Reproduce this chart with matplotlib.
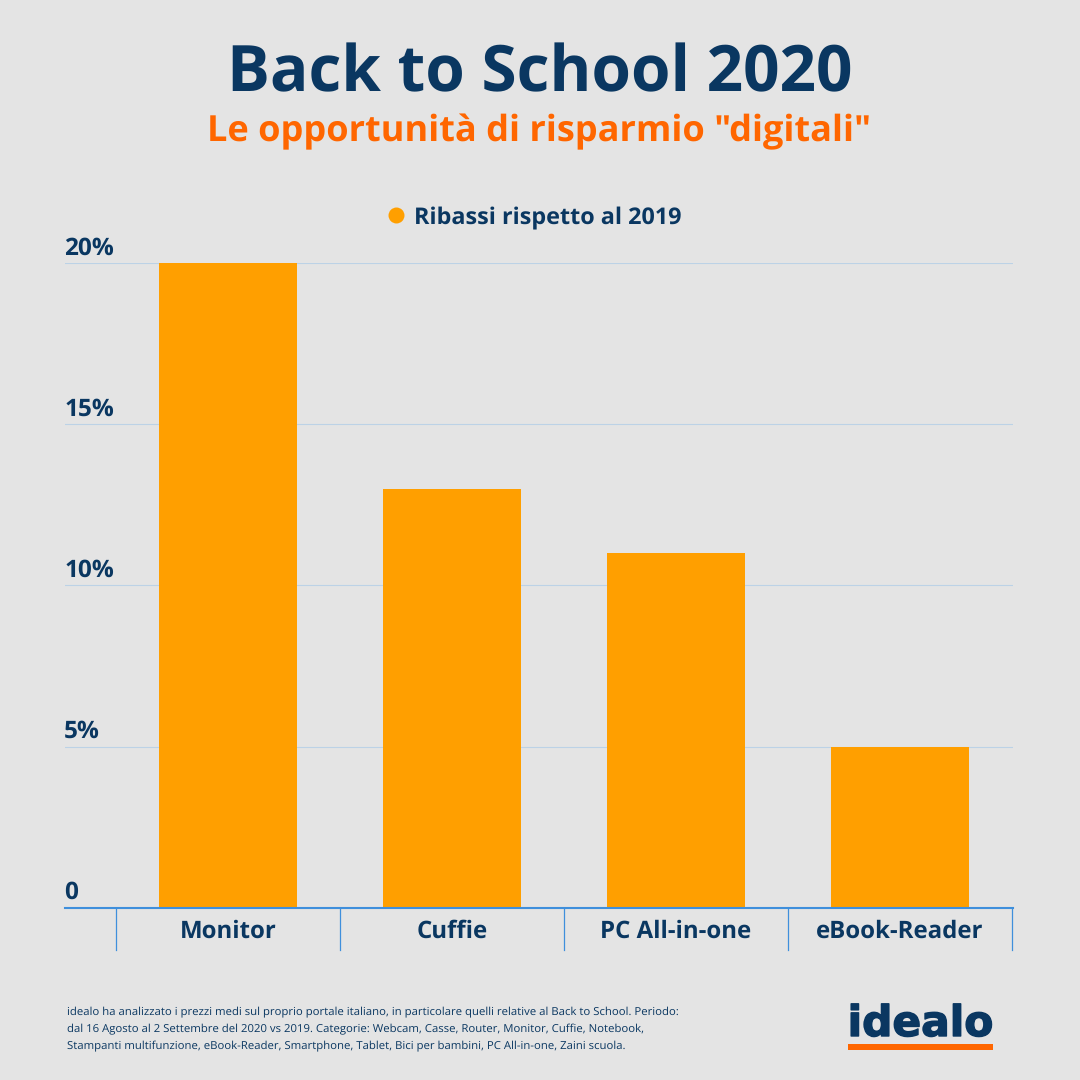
import matplotlib
matplotlib.use("Agg")
import matplotlib.pyplot as plt
import matplotlib.patheffects as pe
from matplotlib.patches import Rectangle

categories = ["Monitor", "Cuffie", "PC All-in-one", "eBook-Reader"]
values = [20, 13, 11, 5]
ytick_vals = [0, 5, 10, 15, 20]
ytick_labels = ["0", "5%", "10%", "15%", "20%"]
title = "Back to School 2020"
subtitle = 'Le opportunità di risparmio "digitali"'
series_name = "Ribassi rispetto al 2019"
note = ["idealo ha analizzato i prezzi medi sul proprio portale italiano, in particolare quelli relative al Back to School. Periodo:",
        "dal 16 Agosto al 2 Settembre del 2020 vs 2019. Categorie: Webcam, Casse, Router, Monitor, Cuffie, Notebook,",
        "Stampanti multifunzione, eBook-Reader, Smartphone, Tablet, Bici per bambini, PC All-in-one, Zaini scuola."]

BG = "#e4e4e4"; NAVY = "#0a3761"; ORANGE = "#ff6600"; BAR = "#ff9f00"; BLUE = "#3f8fdc"; GRID = "#bcd2e6"
plt.rcParams["font.family"] = ["Open Sans", "DejaVu Sans"]
plt.rcParams["text.hinting"] = "no_hinting"
plt.rcParams["text.hinting_factor"] = 8
W = H = 1080
fig = plt.figure(figsize=(10.8, 10.8), dpi=100, facecolor=BG)
L, R, T, B = 65, 1013, 263.2, 907.6
ax = fig.add_axes([L/W, 1-B/H, (R-L)/W, (B-T)/H], facecolor="none")
ax.set_xlim(-163/224, 3+(R-900)/224)
ax.set_ylim(0, 20)
ax.bar(range(4), values, width=138/224, color=BAR, zorder=2)
ax.set_yticks(ytick_vals)
ax.set_yticklabels([])
ax.grid(axis="y", color=GRID, lw=0.8, zorder=1)
ax.set_axisbelow(True)
ax.set_xticks([])
for s in ["top", "right", "left"]:
    ax.spines[s].set_visible(False)
ax.spines["bottom"].set_color(BLUE)
ax.spines["bottom"].set_linewidth(1.5)
ax.spines["bottom"].set_zorder(3)
ax.tick_params(left=False)

tr = ax.get_yaxis_transform()
for v, lab in zip(ytick_vals, ytick_labels):
    ax.annotate(lab, xy=(0, v), xycoords=tr, xytext=(-0.5, 2.0), textcoords="offset points",
                ha="left", va="bottom", fontsize=17.6, fontweight="bold", color=NAVY)
xtr = ax.get_xaxis_transform()
for i, c in enumerate(categories):
    ax.annotate(c, xy=(i, 0), xycoords=xtr, xytext=(0, -17.3), textcoords="offset points",
                ha="center", va="center", fontsize=17.3, fontweight="bold", color=NAVY)
for b in [-0.5, 0.5, 1.5, 2.5, 3.5]:
    ax.plot([b, b], [0, -42/32.2], color=BLUE, lw=0.9, clip_on=False, zorder=3)

def px(x, y):
    return x/W, 1-y/H
fig.text(*px(539.5, 75), title, ha="center", va="center", fontsize=46, fontweight="bold", color=NAVY)
fig.text(*px(539.5, 131.5), subtitle, ha="center", va="center", fontsize=26.0, fontweight="bold", color=ORANGE)
fig.text(*px(414.5, 218), series_name, ha="left", va="center", fontsize=16.8, fontweight="bold", color=NAVY)
fig.add_artist(plt.Line2D([396/W], [1-215/H], marker="o", ms=11.5, color=BAR, mew=0, transform=fig.transFigure))
for i, line in enumerate(note):
    fig.text(*px(67, 1012+17*i), line, ha="left", va="center", fontsize=8.2, color=NAVY)
logo = fig.text(*px(920.5, 1036), "idealo", ha="center", va="baseline", fontsize=30.5, fontweight="bold",
                family=["DejaVu Sans"], color=NAVY)
logo.set_path_effects([pe.withStroke(linewidth=1.0, foreground=NAVY)])
fig.add_artist(Rectangle((848/W, 1-1050/H), 145/W, 6/H, color=ORANGE, lw=0, transform=fig.transFigure))
fig.savefig("out.png", dpi=100, facecolor=BG)
